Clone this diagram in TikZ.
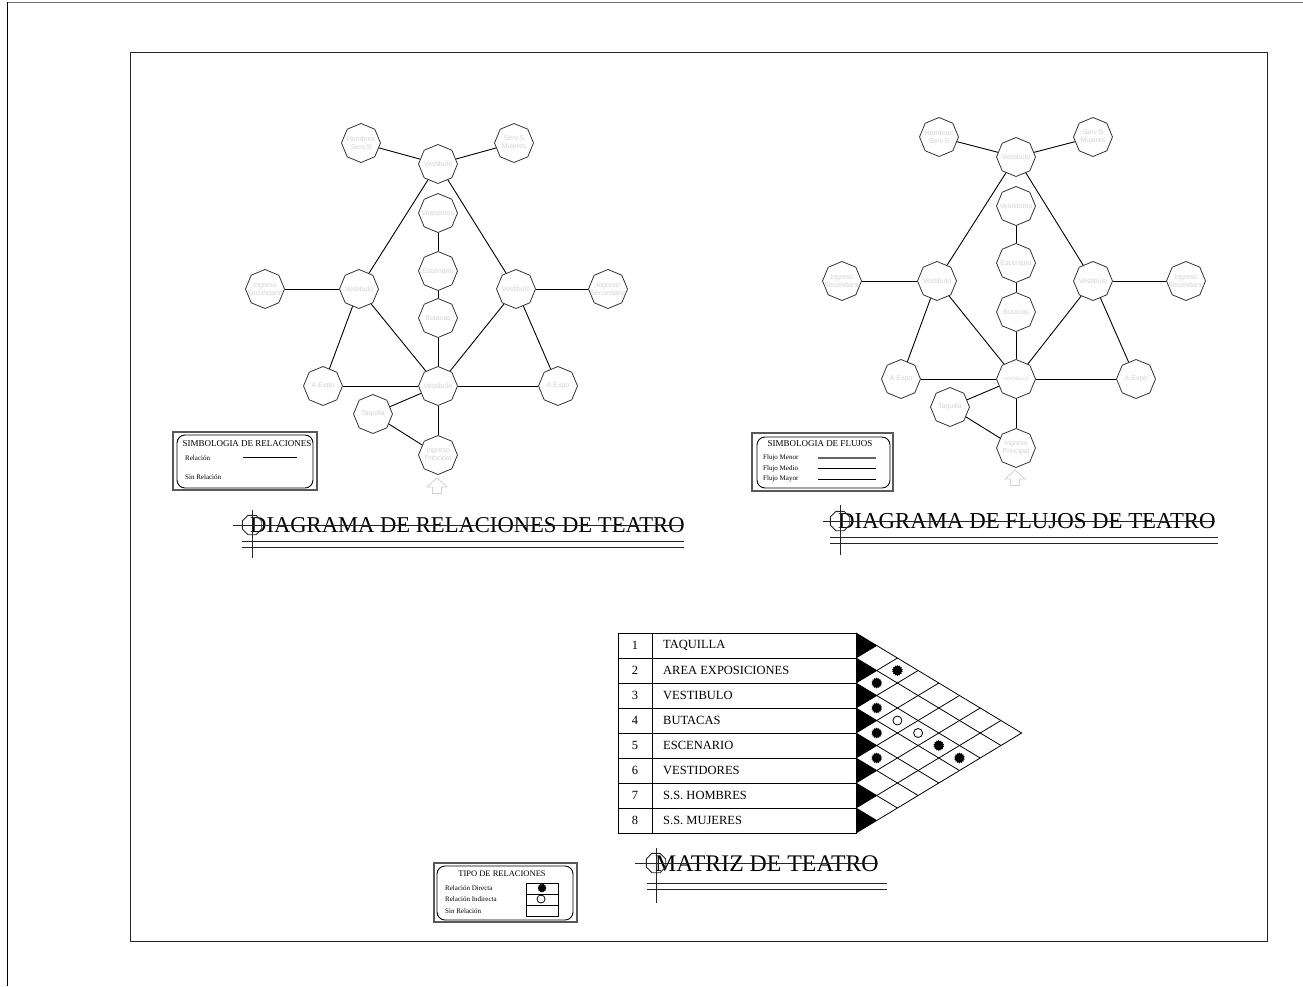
\documentclass[tikz,border=0pt]{standalone}
\usepackage{fontspec}
\setmainfont{Liberation Serif}
\newfontfamily\labfont{Liberation Sans}
\usetikzlibrary{shapes.geometric}
\tikzset{
  oct/.style={regular polygon, regular polygon sides=8, shape border rotate=22.5,
    minimum size=39pt, draw=black!80, line width=0.8pt, inner sep=0pt},
  lab/.style={font=\labfont\fontsize{7}{8.5}\selectfont, text=black!18, align=center, inner sep=0pt},
  conn/.style={line width=0.9pt, black},
  ttl/.style={anchor=west, inner sep=0pt},
  tline/.style={line width=0.9pt, black!85},
  tcirc/.style={regular polygon, regular polygon sides=8, draw=black!85, line width=0.9pt, minimum size=21pt, inner sep=0pt},
  lgtitle/.style={font=\fontsize{9}{10}\selectfont, inner sep=0pt},
  lgtext/.style={font=\fontsize{7}{8}\selectfont, anchor=west, inner sep=0pt},
  mtext/.style={font=\fontsize{12.5}{14}\selectfont, inner sep=0pt},
  grid/.style={line width=0.8pt, black},
  bdot/.style={star, star points=14, star point ratio=1.3, fill=black, draw=none, minimum size=11pt, inner sep=0pt},
  odot/.style={circle, draw=black, line width=0.8pt, fill=white, minimum size=9pt, inner sep=0pt},
  arrowshape/.style={draw=black!18, line width=0.8pt},
  frame/.style={line width=1pt, black!85},
  lgouter/.style={line width=1.1pt, black!65},
  lginner/.style={line width=0.9pt, rounded corners=8pt},
}
\newcommand\Oct[3]{\node[oct] (#1) at (#2) {}; \node[lab] (#1t) at (#1) {#3};}
\newcommand\UpArr[2]{\draw[arrowshape] (#1,#2) ++(0,-9) -- ++(10,9) -- ++(-5.5,0) -- ++(0,6.5) -- ++(-9,0) -- ++(0,-6.5) -- ++(-5.5,0) -- cycle;}
\begin{document}
\begin{tikzpicture}[x=1pt,y=-1pt]
\useasboundingbox (0,0) rectangle (1303,986);
% frames
\draw[line width=1pt, black!55] (7,2) -- (1303,2);
\draw[line width=1pt, black] (7,2) -- (7,986);
\draw[frame] (130,52) rectangle (1267,941);

% ---------------- left diagram ----------------
\Oct{LH}{361,143}{Hombres\\Serv.S}
\Oct{LM}{514,143}{Serv.S\\Mujeres}
\Oct{LVT}{438,164}{Vestibulo}
\Oct{LVd}{438,213}{Vestidores}
\Oct{LEs}{438,271}{Escenario}
\Oct{LBu}{438,318}{Butacas}
\Oct{LIL}{265,289}{Ingreso\\Secundario}
\Oct{LVL}{359,289}{Vestibulo}
\Oct{LVR}{516,289}{Vestibulo}
\Oct{LIR}{608,289}{Ingreso\\Secundario}
\Oct{LAL}{323,386}{A.Expo}
\Oct{LVC}{438,386}{Vestibulo}
\Oct{LAR}{558,386}{A.Expo}
\Oct{LTa}{373,414}{Taquilla}
\Oct{LIP}{438,455}{Ingreso\\Principal}
\UpArr{437}{487}

% ---------------- right diagram ----------------
\Oct{RH}{939,137}{Hombres\\Serv.S}
\Oct{RM}{1093,137}{Serv.S\\Mujeres}
\Oct{RVT}{1016,157}{Vestibulo}
\Oct{RVd}{1016,206}{Vestidores}
\Oct{REs}{1016,263}{Escenario}
\Oct{RBu}{1016,312}{Butacas}
\Oct{RIL}{842,281}{Ingreso\\Secundario}
\Oct{RVL}{937,281}{Vestibulo}
\Oct{RVR}{1093,281}{Vestibulo}
\Oct{RIR}{1186,281}{Ingreso\\Secundario}
\Oct{RAL}{901,379}{A.Expo}
\Oct{RVC}{1016,379}{\fontsize{4.5}{5}\selectfont VESTIBULO}
\Oct{RAR}{1136,379}{A.Expo}
\Oct{RTa}{950,407}{Taquilla}
\Oct{RIP}{1016,448}{Ingreso\\Principal}
\UpArr{1015}{479}

\foreach \p in {L,R}{
  \foreach \a/\b in {H/VT, M/VT, VT/VL, VT/VR, Vd/Es, Es/Bu, Bu/VC, IL/VL, VR/IR,
                     VL/AL, VL/VC, VR/VC, VR/AR, AL/VC, VC/AR, Ta/VC, Ta/IP, VC/IP}
    \draw[conn] (\p\a) -- (\p\b);
}

% ---------------- legends ----------------
% relaciones
\draw[lgouter] (173,432) rectangle (317,490);
\draw[lginner] (177,435) rectangle (313,488);
\node[lgtitle] (lr0) at (247,444) {SIMBOLOGIA DE RELACIONES};
\node[lgtext] (lr1) at (185,458) {Relación};
\node[lgtext] (lr2) at (185,477) {Sin Relación};
\draw[line width=0.9pt] (243,457) -- (297,457);
% flujos
\draw[lgouter] (752,433) rectangle (893,491);
\draw[lginner] (757,437) rectangle (890,488);
\node[lgtitle] (lf0) at (820,444) {SIMBOLOGIA DE FLUJOS};
\node[lgtext] (lf1) at (763,458) {Flujo Menor};
\node[lgtext] (lf2) at (763,468.5) {Flujo Medio};
\node[lgtext] (lf3) at (763,479) {Flujo Mayor};
\draw[line width=1.6pt, black!60] (818,458) -- (876,458);
\draw[line width=0.9pt] (818,468) -- (876,468);
\draw[line width=0.9pt] (818,479) -- (876,479);
% tipo de relaciones
\draw[lgouter] (434,863) rectangle (577,922);
\draw[lginner] (437,866) rectangle (573,920);
\node[lgtitle, font=\fontsize{8.5}{10}\selectfont] (lt0) at (502,874) {TIPO DE RELACIONES};
\node[lgtext] (lt1) at (445,888) {Relación Directa};
\node[lgtext] (lt2) at (445,899.5) {Relación Indirecta};
\node[lgtext] (lt3) at (445,911) {Sin Relación};
\draw[line width=0.9pt] (526,883) rectangle (558,916);
\draw[line width=0.9pt] (526,894) -- (558,894);
\draw[line width=0.9pt] (526,905) -- (558,905);
\node[bdot, minimum size=9pt] (ltd) at (542,888) {};
\node[odot, minimum size=8pt] (lto) at (541,899) {};

% ---------------- titles ----------------
% left
\node[ttl, font=\fontsize{22.6}{24}\selectfont] (t1) at (250,525.5) {DIAGRAMA DE RELACIONES DE TEATRO};
\draw[tline] (233,525) -- (683,525);
\node[tcirc] (t1c) at (252,525) {};
\draw[tline] (252,510) -- (252,558);
\draw[tline] (242,541.5) -- (684,541.5);
\draw[tline] (242,547.5) -- (684,547.5);
% right
\node[ttl, font=\fontsize{22.8}{25}\selectfont] (t2) at (838,521.5) {DIAGRAMA DE FLUJOS DE TEATRO};
\draw[tline] (823,521) -- (1215,521);
\node[tcirc] (t2c) at (840,521) {};
\draw[tline] (840,505) -- (840,555);
\draw[tline] (830,537.5) -- (1218,537.5);
\draw[tline] (830,543.5) -- (1218,543.5);
% matrix title
\node[ttl, font=\fontsize{23.8}{26}\selectfont] (t3) at (655,863.5) {MATRIZ DE TEATRO};
\draw[tline] (635,863) -- (878,863);
\node[tcirc] (t3c) at (656,863) {};
\draw[tline] (656,848) -- (656,903);
\draw[tline] (647,883.5) -- (887,883.5);
\draw[tline] (647,889.5) -- (887,889.5);

% ---------------- matrix ----------------
\draw[line width=1pt] (618,633) rectangle (856,833);
\draw[line width=1pt] (652,633) -- (652,833);
\foreach \k in {1,...,7} \draw[line width=1pt] (618,633+25*\k) -- (856,633+25*\k);
\foreach \n/\t [count=\i] in {1/TAQUILLA, 2/AREA EXPOSICIONES, 3/VESTIBULO, 4/BUTACAS,
     5/ESCENARIO, 6/VESTIDORES, 7/S.S. HOMBRES, 8/S.S. MUJERES}{
  \node[mtext] (mn\i) at (635,620.5+25*\i) {\n};
  \node[mtext, anchor=west] (ml\i) at (663,620.5+25*\i) {\t};
}
\def\mw{20.7}
\foreach \k in {0,...,7} \draw[grid] (856,633+25*\k) -- ++({(8-\k)*\mw},{(8-\k)*12.5});
\foreach \k in {1,...,8} \draw[grid] (856,633+25*\k) -- ++({\k*\mw},{-\k*12.5});
\foreach \i in {1,...,8} \fill[black] (856,608+25*\i) -- ++(\mw,12.5) -- (856,633+25*\i) -- cycle;
% relation marks: cell (i,j) at x=856+(j-i)*w, y=633+12.5*(i+j-1)
\foreach \i/\j in {1/3, 2/3, 3/4, 4/5, 5/6, 3/7, 3/8}
  \node[bdot] (c\i\j) at ({856+(\j-\i)*\mw},{633+12.5*(\i+\j-1)}) {};
\foreach \i/\j in {3/5, 3/6}
  \node[odot] (c\i\j) at ({856+(\j-\i)*\mw},{633+12.5*(\i+\j-1)}) {};
\end{tikzpicture}
\end{document}
